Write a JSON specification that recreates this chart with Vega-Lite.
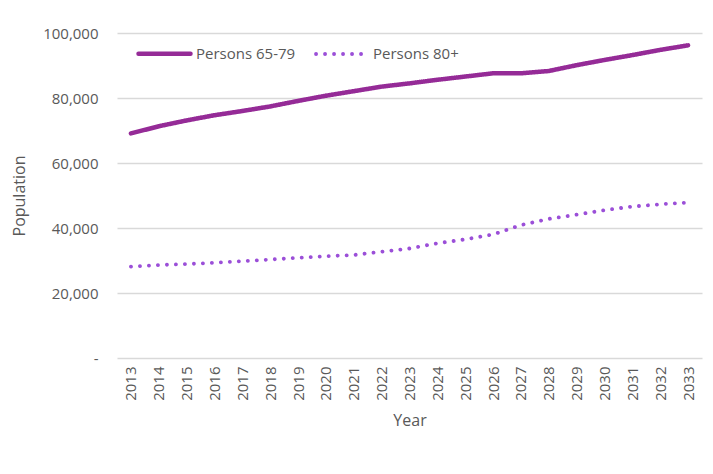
{
  "$schema": "https://vega.github.io/schema/vega-lite/v6.json",
  "width": 585,
  "height": 325,
  "autosize": "none",
  "padding": {"left": 117, "top": 33, "right": 11, "bottom": 116},
  "background": "white",
  "config": {
    "font": "Open Sans",
    "view": {"stroke": null},
    "axis": {"labelColor": "#595959", "titleColor": "#595959", "labelFont": "Open Sans", "titleFont": "Open Sans", "titleFontWeight": "normal"}
  },
  "data": {
    "values": [
      {"year": "2013", "series": "Persons 65-79", "value": 69100},
      {"year": "2014", "series": "Persons 65-79", "value": 71300},
      {"year": "2015", "series": "Persons 65-79", "value": 73100},
      {"year": "2016", "series": "Persons 65-79", "value": 74700},
      {"year": "2017", "series": "Persons 65-79", "value": 76000},
      {"year": "2018", "series": "Persons 65-79", "value": 77400},
      {"year": "2019", "series": "Persons 65-79", "value": 79100},
      {"year": "2020", "series": "Persons 65-79", "value": 80700},
      {"year": "2021", "series": "Persons 65-79", "value": 82100},
      {"year": "2022", "series": "Persons 65-79", "value": 83500},
      {"year": "2023", "series": "Persons 65-79", "value": 84500},
      {"year": "2024", "series": "Persons 65-79", "value": 85600},
      {"year": "2025", "series": "Persons 65-79", "value": 86600},
      {"year": "2026", "series": "Persons 65-79", "value": 87600},
      {"year": "2027", "series": "Persons 65-79", "value": 87600},
      {"year": "2028", "series": "Persons 65-79", "value": 88300},
      {"year": "2029", "series": "Persons 65-79", "value": 90100},
      {"year": "2030", "series": "Persons 65-79", "value": 91700},
      {"year": "2031", "series": "Persons 65-79", "value": 93200},
      {"year": "2032", "series": "Persons 65-79", "value": 94800},
      {"year": "2033", "series": "Persons 65-79", "value": 96200},
      {"year": "2013", "series": "Persons 80+", "value": 28100},
      {"year": "2014", "series": "Persons 80+", "value": 28600},
      {"year": "2015", "series": "Persons 80+", "value": 28900},
      {"year": "2016", "series": "Persons 80+", "value": 29300},
      {"year": "2017", "series": "Persons 80+", "value": 29800},
      {"year": "2018", "series": "Persons 80+", "value": 30300},
      {"year": "2019", "series": "Persons 80+", "value": 30800},
      {"year": "2020", "series": "Persons 80+", "value": 31300},
      {"year": "2021", "series": "Persons 80+", "value": 31700},
      {"year": "2022", "series": "Persons 80+", "value": 32700},
      {"year": "2023", "series": "Persons 80+", "value": 33700},
      {"year": "2024", "series": "Persons 80+", "value": 35300},
      {"year": "2025", "series": "Persons 80+", "value": 36500},
      {"year": "2026", "series": "Persons 80+", "value": 38000},
      {"year": "2027", "series": "Persons 80+", "value": 40900},
      {"year": "2028", "series": "Persons 80+", "value": 42800},
      {"year": "2029", "series": "Persons 80+", "value": 44100},
      {"year": "2030", "series": "Persons 80+", "value": 45500},
      {"year": "2031", "series": "Persons 80+", "value": 46600},
      {"year": "2032", "series": "Persons 80+", "value": 47300},
      {"year": "2033", "series": "Persons 80+", "value": 47800}
    ]
  },
  "mark": {"type": "line", "strokeCap": "round", "strokeJoin": "round"},
  "encoding": {
    "x": {
      "field": "year",
      "type": "ordinal",
      "title": "Year",
      "axis": {
        "labelAngle": 270,
        "labelFontSize": 15,
        "labelPadding": 8,
        "ticks": false,
        "domain": false,
        "grid": false,
        "titleFontSize": 16,
        "titlePadding": 12
      }
    },
    "y": {
      "field": "value",
      "type": "quantitative",
      "title": "Population",
      "scale": {"domain": [0, 100000], "nice": false},
      "axis": {
        "values": [0, 20000, 40000, 60000, 80000, 100000],
        "labelExpr": "datum.value == 0 ? '-' : format(datum.value, ',')",
        "labelFontSize": 15,
        "labelPadding": 19,
        "ticks": false,
        "domain": false,
        "gridColor": "#d9d9d9",
        "gridWidth": 1.3,
        "titleFontSize": 16,
        "titlePadding": 15
      }
    },
    "strokeWidth": {
      "field": "series",
      "type": "nominal",
      "scale": {"domain": ["Persons 65-79", "Persons 80+"], "range": [4.5, 3.8]},
      "legend": null
    },
    "color": {
      "field": "series",
      "type": "nominal",
      "scale": {"domain": ["Persons 65-79", "Persons 80+"], "range": ["#952B97", "#9B4FD8"]},
      "legend": {
        "title": null,
        "orient": "none",
        "legendX": 19,
        "legendY": -8,
        "direction": "horizontal",
        "symbolType": "stroke",
        "symbolSize": 2704,
        "symbolStrokeWidth": 4,
        "labelFontSize": 15,
        "labelColor": "#595959",
        "labelOffset": 3,
        "columnPadding": 12,
        "encoding": {"symbols": {"strokeCap": {"value": "round"}}}
      }
    },
    "strokeDash": {
      "field": "series",
      "type": "nominal",
      "scale": {"domain": ["Persons 65-79", "Persons 80+"], "range": [[1, 0], [0.1, 8.9]]},
      "legend": {
        "title": null,
        "orient": "none",
        "legendX": 19,
        "legendY": -8,
        "direction": "horizontal",
        "symbolType": "stroke",
        "symbolSize": 2704,
        "symbolStrokeWidth": 4,
        "labelFontSize": 15,
        "labelColor": "#595959",
        "labelOffset": 3,
        "columnPadding": 12,
        "encoding": {"symbols": {"strokeCap": {"value": "round"}}}
      }
    }
  }
}
